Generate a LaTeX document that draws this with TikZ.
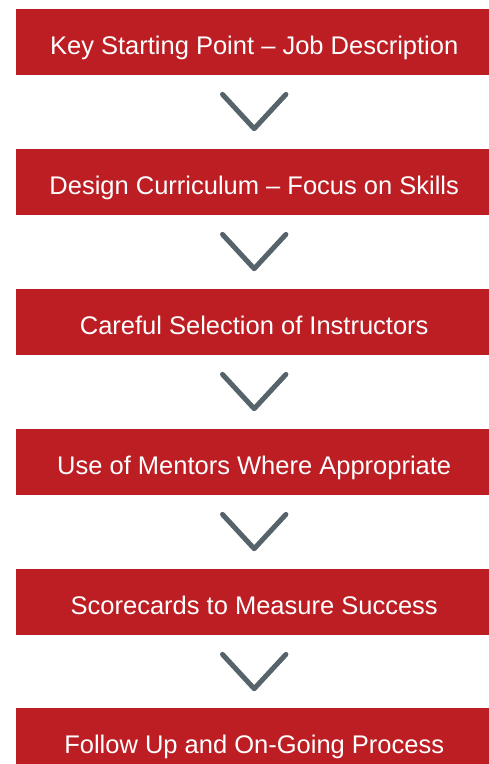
\documentclass[tikz,border=0pt]{standalone}
\usepackage{fontspec}
\setmainfont{Liberation Sans}
\usetikzlibrary{calc}
\definecolor{boxred}{HTML}{BC1E24}
\definecolor{chevgray}{HTML}{56636B}
\tikzset{
  stepbox/.style={fill=boxred, draw=none, inner sep=0pt, anchor=north west,
    minimum width=476pt, minimum height=66pt, text height=45pt, text depth=21pt,
    text=white, font=\fontsize{25.5pt}{30pt}\selectfont},
  chev/.style={draw=chevgray, line width=5pt, line cap=round, line join=round}
}
\begin{document}
\begin{tikzpicture}[x=1pt,y=1pt]
\useasboundingbox (0,0) rectangle (488,-764);
\node[stepbox] (b1) at (16,-9) {Key Starting Point – Job Description};
\node[stepbox] (b2) at (16,-149) {Design Curriculum – Focus on Skills};
\node[stepbox] (b3) at (16,-289) {Careful Selection of Instructors};
\node[stepbox] (b4) at (16,-429) {Use of Mentors Where Appropriate};
\node[stepbox] (b5) at (16,-569) {Scorecards to Measure Success};
\node[stepbox] (b6) at (16,-708) {Follow Up and On-Going Process};
\foreach \i in {1,...,5}{
  \draw[chev] ($(b\i.south)+(-31.7,-19)$) -- ($(b\i.south)+(0,-53.3)$) -- ($(b\i.south)+(31.7,-19)$);
}
\end{tikzpicture}
\end{document}
